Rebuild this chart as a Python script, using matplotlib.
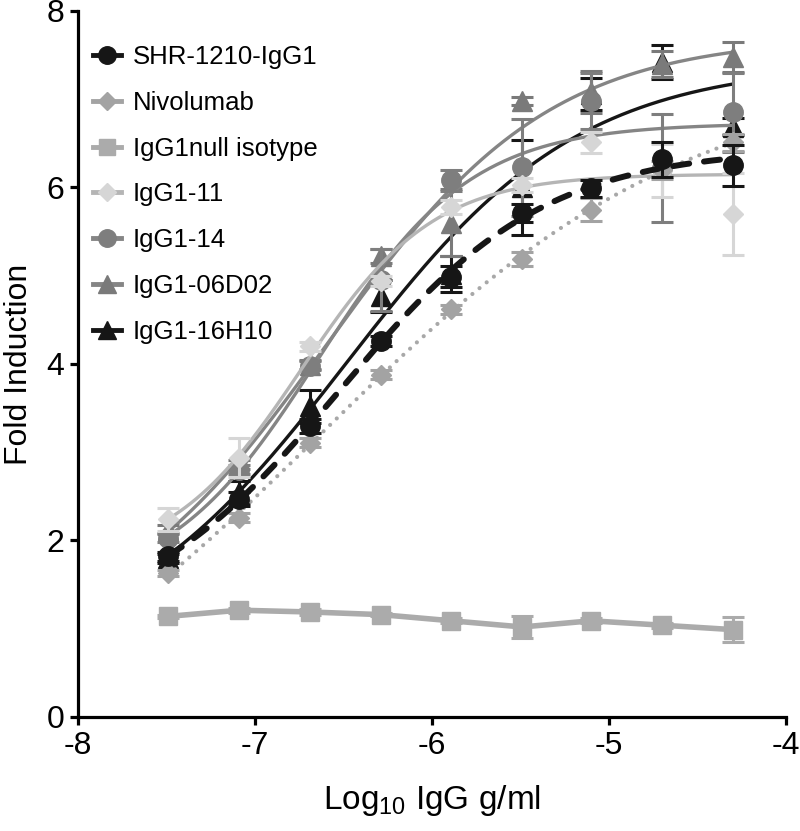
import numpy as np
import matplotlib
matplotlib.use("Agg")
import matplotlib.pyplot as plt
from matplotlib.lines import Line2D

plt.rcParams['font.family'] = ['Liberation Sans', 'DejaVu Sans']
plt.rcParams['mathtext.fontset'] = 'custom'
plt.rcParams['mathtext.rm'] = 'Liberation Sans'
plt.rcParams['mathtext.it'] = 'Liberation Sans'

# log10 concentration (g/ml), 1:2.5 dilution series
log_conc = [-7.49, -7.09, -6.69, -6.29, -5.89, -5.49, -5.10, -4.70, -4.30]

labels = ["SHR-1210-IgG1", "Nivolumab", "IgG1null isotype", "IgG1-11",
          "IgG1-14", "IgG1-06D02", "IgG1-16H10"]

shr_mean = [1.82, 2.47, 3.30, 4.26, 4.99, 5.71, 5.99, 6.32, 6.25]
shr_err = [0.05, 0.08, 0.08, 0.06, 0.12, 0.10, 0.10, 0.20, 0.23]
nivo_mean = [1.63, 2.26, 3.11, 3.88, 4.62, 5.19, 5.75, 6.20, 6.51]
nivo_err = [0.03, 0.05, 0.05, 0.05, 0.05, 0.08, 0.13, 0.10, 0.10]
null_mean = [1.14, 1.21, 1.19, 1.16, 1.09, 1.02, 1.09, 1.04, 0.99]
null_err = [0.02, 0.03, 0.03, 0.02, 0.03, 0.12, 0.03, 0.03, 0.14]
g11_mean = [2.24, 2.94, 4.20, 4.94, 5.78, 6.03, 6.51, 6.19, 5.70]
g11_err = [0.13, 0.22, 0.05, 0.06, 0.08, 0.08, 0.12, 0.30, 0.46]
g14_mean = [2.03, 2.80, 3.98, 4.95, 6.08, 6.23, 6.98, 6.22, 6.85]
g14_err = [0.05, 0.05, 0.05, 0.35, 0.12, 0.55, 0.32, 0.61, 0.45]
g06_mean = [2.12, 2.86, 3.99, 5.22, 5.60, 6.98, 7.08, 7.40, 7.48]
g06_err = [0.05, 0.05, 0.05, 0.08, 0.38, 0.05, 0.24, 0.15, 0.17]
g16_mean = [1.80, 2.55, 3.52, 4.77, 5.02, 6.00, 7.06, 7.42, 6.69]
g16_err = [0.05, 0.12, 0.19, 0.18, 0.20, 0.54, 0.18, 0.19, 0.10]

means = [shr_mean, nivo_mean, null_mean, g11_mean, g14_mean, g06_mean, g16_mean]
errs = [shr_err, nivo_err, null_err, g11_err, g14_err, g06_err, g16_err]

marker_colors = ['#161616', '#a3a3a3', '#ababab', '#d6d6d6', '#7e7e7e', '#7a7a7a', '#161616']
line_colors = ['#161616', '#a8a8a8', '#ababab', '#b5b5b5', '#858585', '#858585', '#161616']
markers = ['o', 'D', 's', 'D', 'o', '^', '^']
msizes = [14, 10, 13.5, 10.5, 14, 15, 15]


def fit_4pl(x, y):
    # brute-force 4PL fit: grid over logEC50/hill, linear solve for bottom/top
    x = np.asarray(x)
    y = np.asarray(y)
    ec = np.linspace(-8, -4, 401)[:, None, None]
    hill = np.linspace(0.4, 2.5, 211)[None, :, None]
    s = 1.0 / (1.0 + 10 ** ((ec - x) * hill))
    sm = s.mean(-1, keepdims=True)
    ym = y.mean()
    b = ((s - sm) * (y - ym)).sum(-1, keepdims=True) / ((s - sm) ** 2).sum(-1, keepdims=True)
    a = ym - b * sm
    sse = ((y - a - b * s) ** 2).sum(-1)
    i, j = np.unravel_index(np.argmin(sse), sse.shape)
    bot = a[i, j, 0]
    top = a[i, j, 0] + b[i, j, 0]
    return bot, top, ec[i, 0, 0], hill[0, j, 0]


fig = plt.figure(figsize=(8, 8.31), dpi=100)
ax = fig.add_axes([0.0975, 0.1372, 0.885, 0.8496])

xs = np.linspace(log_conc[0], log_conc[-1], 300)
curve_styles = [
    dict(lw=4.3, ls=(0, (2.7, 2.5)), dash_capstyle='round'),
    dict(lw=3.0, ls=(0, (0.01, 2.2)), dash_capstyle='round'),
    None,
    dict(lw=2.4, ls='-'),
    dict(lw=2.4, ls='-'),
    dict(lw=2.4, ls='-'),
    dict(lw=2.4, ls='-'),
]

# draw last legend entry first so SHR-1210 ends up on top
for k in reversed(range(len(labels))):
    z = 3 + (len(labels) - k) * 2
    if curve_styles[k] is None:
        ax.plot(log_conc, means[k], color=line_colors[k], lw=4, zorder=z)
    else:
        bot, top, ec50, h = fit_4pl(log_conc, means[k])
        ys = bot + (top - bot) / (1 + 10 ** ((ec50 - xs) * h))
        ax.plot(xs, ys, color=line_colors[k], zorder=z, **curve_styles[k])
    ax.errorbar(log_conc, means[k], yerr=errs[k], fmt='none', ecolor=marker_colors[k],
                elinewidth=2.2, capsize=8, capthick=2.2, zorder=z)
    ax.plot(log_conc, means[k], ls='none', marker=markers[k], ms=msizes[k],
            color=marker_colors[k], mec=marker_colors[k], zorder=z + 1)

handles = []
for k in range(len(labels)):
    handles.append(Line2D([], [], color=line_colors[k] if k != 1 else marker_colors[k], lw=3.5,
                          marker=markers[k], ms=msizes[k] * 0.9,
                          mfc=marker_colors[k], mec=marker_colors[k]))
ax.legend(handles, labels, loc='upper left', bbox_to_anchor=(80 / 800, 1 - 32 / 831),
          bbox_transform=fig.transFigure, frameon=False, fontsize=18.5, borderpad=0,
          handlelength=1.1, handletextpad=0.45, labelspacing=0.85, numpoints=1)

ax.set_xlim(-8, -4)
ax.set_ylim(0, 8)
ax.set_xticks([-8, -7, -6, -5, -4])
ax.set_yticks([0, 2, 4, 6, 8])
ax.set_xticklabels(['-8', '-7', '-6', '-5', '-4'])
for side in ['top', 'right']:
    ax.spines[side].set_visible(False)
for side in ['left', 'bottom']:
    ax.spines[side].set_linewidth(2.3)
ax.tick_params(width=2.3, length=6, labelsize=23, pad=4)
ax.set_xlabel('Log$_{10}$ IgG g/ml', fontsize=24, labelpad=16)
ax.set_ylabel('Fold Induction', fontsize=23)
ax.yaxis.set_label_coords(-0.062, 0.5)

fig.savefig('out.png', dpi=100)
